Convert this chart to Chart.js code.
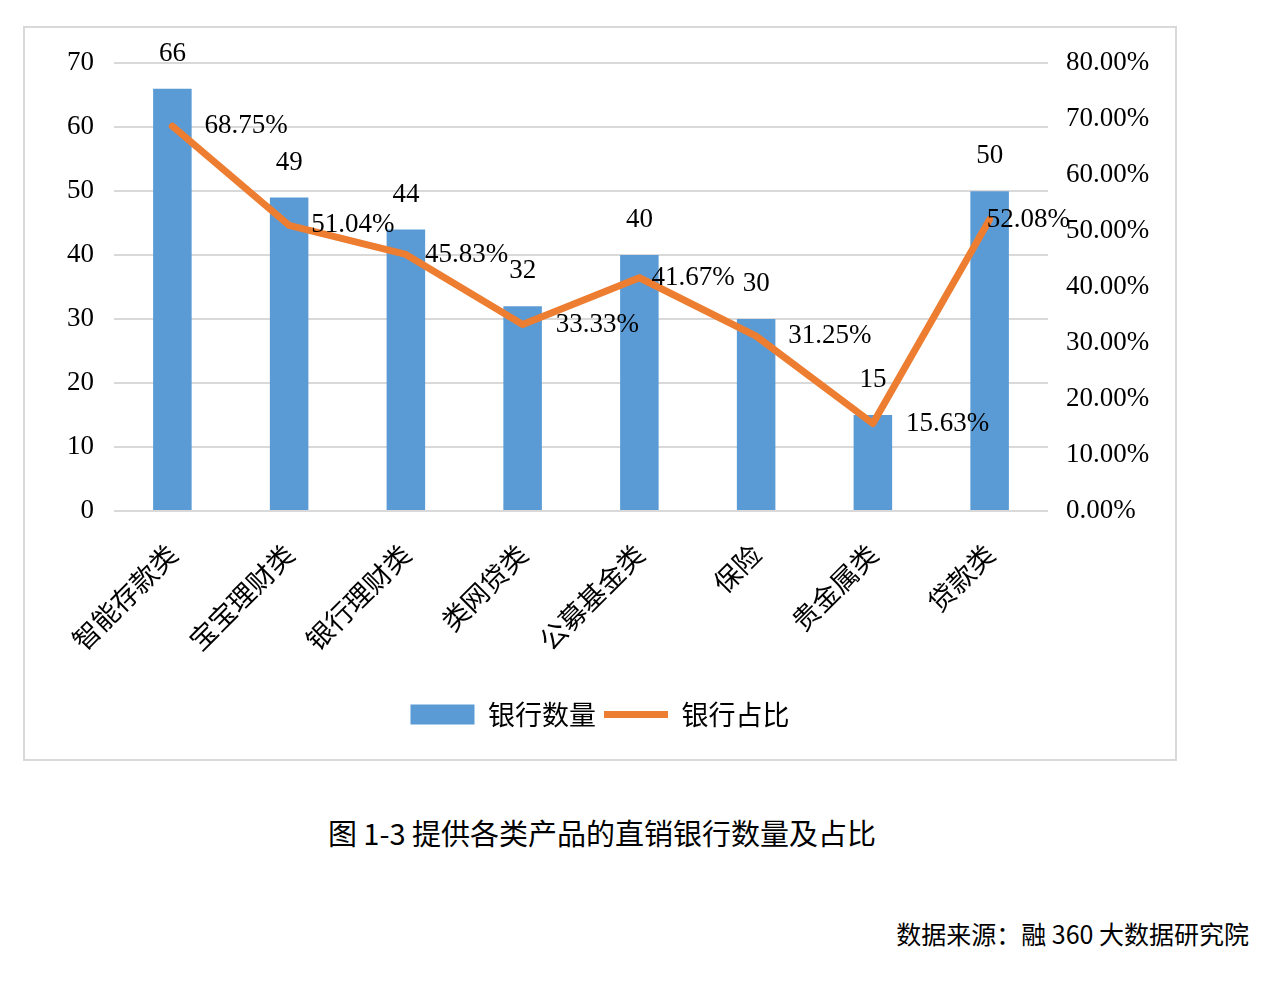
<!DOCTYPE html>
<html lang="zh-CN">
<head>
<meta charset="UTF-8">
<title>提供各类产品的直销银行数量及占比</title>
<style>
    body {
        margin: 0;
        width: 1270px;
        height: 989px;
        position: relative;
        overflow: hidden;
        background: #ffffff;
        font-family: 'Noto Sans CJK SC', sans-serif;
        color: #000;
    }
    #frame {
        position: absolute;
        left: 23px;
        top: 26px;
        width: 1154px;
        height: 735px;
        box-sizing: border-box;
        border: 2px solid #d9d9d9;
    }
    #wrap {
        position: absolute;
        left: 24px;
        top: 27px;
        width: 1152px;
        height: 733px;
    }
    #caption {
        position: absolute;
        left: 0;
        width: 1204px;
        top: 812px;
        line-height: 40px;
        font-size: 29px;
        text-align: center;
    }
    #source {
        position: absolute;
        right: 21px;
        top: 916px;
        line-height: 34px;
        font-size: 25px;
    }
</style>
</head>
<body>

<div id="frame"></div>
<div id="wrap"><canvas id="chart"></canvas></div>
<div id="caption">图 1-3 提供各类产品的直销银行数量及占比</div>
<div id="source">数据来源：融 360 大数据研究院</div>

<script src="https://cdn.jsdelivr.net/npm/chart.js@4.4.1/dist/chart.umd.min.js"></script>
<script>
    // data
    const categories = ['智能存款类', '宝宝理财类', '银行理财类', '类网贷类', '公募基金类', '保险', '贵金属类', '贷款类'];
    const bankCounts = [66, 49, 44, 32, 40, 30, 15, 50];
    const bankShare = [0.6875, 0.5104, 0.4583, 0.3333, 0.4167, 0.3125, 0.1563, 0.5208];
    const seriesNames = ['银行数量', '银行占比'];

    const serif = '"Liberation Serif", "Noto Sans CJK SC", serif';
    const fmtPct = v => (v * 100).toFixed(2) + '%';

    // labels on top of bars / right of line points, like the Excel data labels
    const valueLabels = {
        id: 'valueLabels',
        afterDatasetsDraw(chart, args, opts) {
            const ctx = chart.ctx;
            ctx.save();
            ctx.font = '27px ' + serif;
            ctx.fillStyle = '#000';
            ctx.textBaseline = 'middle';

            ctx.textAlign = 'center';
            chart.getDatasetMeta(0).data.forEach((bar, i) => {
                ctx.fillText(bankCounts[i], bar.x, bar.y - opts.barGap);
            });

            ctx.textAlign = 'left';
            chart.getDatasetMeta(1).data.forEach((pt, i) => {
                ctx.fillText(fmtPct(bankShare[i]), pt.x + opts.lineDx[i], pt.y);
            });
            ctx.restore();
        }
    };

    const ctx = document.getElementById('chart').getContext('2d');
    new Chart(ctx, {
        type: 'bar',
        data: {
            labels: categories,
            datasets: [{
                label: seriesNames[0],
                data: bankCounts,
                backgroundColor: '#5b9bd5',
                borderWidth: 0,
                barPercentage: 0.33,
                categoryPercentage: 1,
                yAxisID: 'y',
                order: 1,
                pointStyle: 'rect'
            }, {
                type: 'line',
                label: seriesNames[1],
                data: bankShare,
                borderColor: '#ed7d31',
                backgroundColor: '#ed7d31',
                borderWidth: 7,
                borderCapStyle: 'round',
                borderJoinStyle: 'round',
                pointRadius: 0,
                pointStyle: 'line',
                tension: 0,
                yAxisID: 'y1',
                order: 0
            }]
        },
        options: {
            responsive: true,
            maintainAspectRatio: false,
            animation: false,
            layout: { padding: { top: 35, left: 0, right: 0, bottom: 22 } },
            plugins: {
                tooltip: { enabled: false },
                legend: {
                    position: 'bottom',
                    labels: {
                        usePointStyle: true,
                        pointStyleWidth: 64,
                        boxHeight: 20,
                        padding: 8,
                        color: '#000',
                        font: { size: 27, family: '"Noto Sans CJK SC", sans-serif' },
                        sort: (a, b) => a.datasetIndex - b.datasetIndex
                    }
                },
                valueLabels: {
                    barGap: 35,
                    lineDx: [32, 22, 19, 33, 12, 32, 33, -3]
                }
            },
            scales: {
                x: {
                    grid: { display: false, drawTicks: false },
                    border: { display: false },
                    ticks: {
                        autoSkip: false,
                        maxRotation: 45,
                        minRotation: 45,
                        padding: 27,
                        color: '#000',
                        font: { size: 27, family: '"Noto Sans CJK SC", sans-serif' }
                    },
                    afterFit: s => { s.height = 182; }
                },
                y: {
                    position: 'left',
                    min: 0,
                    max: 70,
                    grid: { color: '#d9d9d9', lineWidth: 2, drawTicks: false },
                    border: { display: false },
                    ticks: {
                        stepSize: 10,
                        padding: 20,
                        color: '#000',
                        font: { size: 27, family: serif }
                    },
                    afterFit: s => { s.width = 90; }
                },
                y1: {
                    position: 'right',
                    min: 0,
                    max: 0.8,
                    grid: { display: false, drawTicks: false },
                    border: { display: false },
                    ticks: {
                        stepSize: 0.1,
                        padding: 18,
                        color: '#000',
                        font: { size: 27, family: serif },
                        callback: v => fmtPct(v)
                    },
                    afterFit: s => { s.width = 128; }
                }
            }
        },
        plugins: [valueLabels]
    });
</script>

</body>
</html>
